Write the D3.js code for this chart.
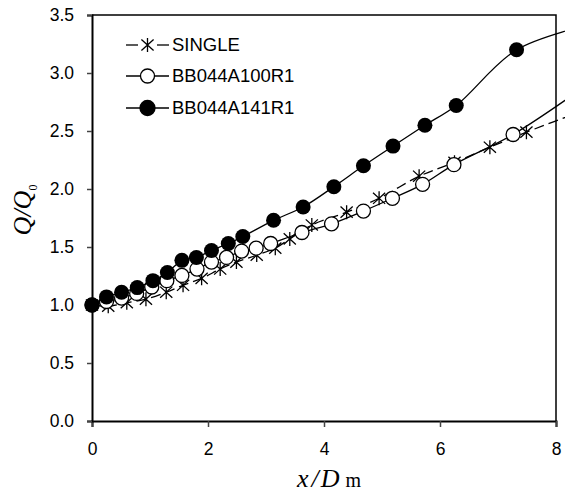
<!DOCTYPE html>
<html lang="en">
    <head>
        <meta charset="utf-8">
        <title>Q/Q0 vs x/Dm</title>
        <script src="https://d3js.org/d3.v7.min.js"></script>
        <style type="text/css">
            body { margin: 0; background: #fff; }
            .tick text { font-family: "Liberation Sans", Arial, sans-serif; font-size: 17.5px; fill: #000; }
        </style>
    </head>
    <body>
        <script type="text/javascript">
            // data (last point of each series lies past x=8, only its line shows)
            var singleX = [0, 0.28, 0.60, 0.93, 1.28, 1.57, 1.89, 2.21, 2.49, 2.84, 3.16, 3.41, 3.79, 4.39, 4.95, 5.64, 6.25, 6.86, 7.49, 8.6];
            var singleY = [1.0, 0.99, 1.02, 1.05, 1.11, 1.17, 1.23, 1.31, 1.37, 1.43, 1.49, 1.57, 1.69, 1.80, 1.92, 2.11, 2.23, 2.36, 2.49, 2.70];

            var openX = [0, 0.25, 0.51, 0.77, 1.03, 1.29, 1.55, 1.81, 2.06, 2.32, 2.58, 2.83, 3.08, 3.62, 4.13, 4.68, 5.18, 5.70, 6.24, 7.26, 8.6];
            var openY = [1.0, 1.03, 1.06, 1.10, 1.155, 1.21, 1.255, 1.31, 1.37, 1.41, 1.465, 1.49, 1.53, 1.625, 1.70, 1.81, 1.92, 2.04, 2.21, 2.47, 2.92];

            var filledX = [0, 0.25, 0.51, 0.78, 1.05, 1.30, 1.55, 1.80, 2.06, 2.35, 2.60, 3.13, 3.64, 4.17, 4.68, 5.19, 5.74, 6.28, 7.32, 8.6];
            var filledY = [1.0, 1.07, 1.11, 1.15, 1.21, 1.28, 1.385, 1.41, 1.47, 1.53, 1.59, 1.73, 1.845, 2.02, 2.20, 2.37, 2.55, 2.72, 3.20, 3.42];

            var seriesNames = ["SINGLE", "BB044A100R1", "BB044A141R1"];
            var xTicks = [0, 2, 4, 6, 8];
            var yTicks = [0, 0.5, 1, 1.5, 2, 2.5, 3, 3.5];

            var width = 578, height = 496;
            var plot = {left: 92, right: 556, top: 15, bottom: 421};

            var xScale = d3.scaleLinear().domain([0, 8]).range([plot.left, plot.right]);
            var yScale = d3.scaleLinear().domain([0, 3.5]).range([plot.bottom, plot.top]);

            var svg = d3.select("body").append("svg")
                .attr("width", width)
                .attr("height", height);

            // lines run past the axis box, up to the chart area edge
            svg.append("clipPath").attr("id", "area")
                .append("rect").attr("x", 0).attr("y", 0).attr("width", 565).attr("height", height);

            // frame (top and right)
            svg.append("path")
                .attr("d", "M" + plot.left + "," + plot.top + "H" + plot.right + "V" + plot.bottom)
                .attr("fill", "none").attr("stroke", "#000").attr("stroke-width", 1.5);

            // axes
            var xAxis = d3.axisBottom(xScale).tickValues(xTicks).tickSize(6).tickPadding(16).tickFormat(d3.format("d"));
            var yAxis = d3.axisLeft(yScale).tickValues(yTicks).tickSize(5).tickPadding(13).tickFormat(d3.format(".1f"));

            var gx = svg.append("g").attr("transform", "translate(0," + plot.bottom + ")").call(xAxis);
            var gy = svg.append("g").attr("transform", "translate(" + plot.left + ",0)").call(yAxis);
            [gx, gy].forEach(function(g) {
                g.select(".domain").attr("stroke", "#000").attr("stroke-width", 2);
                g.selectAll(".tick line").attr("stroke", "#444").attr("stroke-width", 1.5);
            });

            function toPoints(xs, ys) {
                return xs.map(function(x, i) { return {x: x, y: ys[i]}; });
            }

            var line = d3.line()
                .x(function(d) { return xScale(d.x); })
                .y(function(d) { return yScale(d.y); })
                .curve(d3.curveCatmullRom.alpha(0.5));

            function starPath(cx, cy, r) {
                var dx = r * 0.87;
                return "M" + cx + "," + (cy - r) + "V" + (cy + r) +
                    "M" + (cx - dx) + "," + (cy - r * 0.8) + "L" + (cx + dx) + "," + (cy + r * 0.8) +
                    "M" + (cx - dx) + "," + (cy + r * 0.8) + "L" + (cx + dx) + "," + (cy - r * 0.8);
            }

            var plots = svg.append("g").attr("clip-path", "url(#area)");

            // SINGLE: dashed line, star markers
            var single = toPoints(singleX, singleY);
            plots.append("path").datum(single)
                .attr("d", line).attr("fill", "none")
                .attr("stroke", "#000").attr("stroke-width", 1.3).attr("stroke-dasharray", "10,5");
            plots.selectAll(".star").data(single.filter(function(d) { return d.x <= 8; }))
                .enter().append("path").attr("class", "star")
                .attr("d", function(d) { return starPath(xScale(d.x), yScale(d.y), 7); })
                .attr("stroke", "#000").attr("stroke-width", 1.3).attr("fill", "none");

            // BB044A100R1: solid line, open circles
            var open = toPoints(openX, openY);
            plots.append("path").datum(open)
                .attr("d", line).attr("fill", "none")
                .attr("stroke", "#000").attr("stroke-width", 1.3);
            plots.selectAll(".open").data(open.filter(function(d) { return d.x <= 8; }))
                .enter().append("circle").attr("class", "open")
                .attr("cx", function(d) { return xScale(d.x); })
                .attr("cy", function(d) { return yScale(d.y); })
                .attr("r", 7).attr("fill", "#fff").attr("stroke", "#000").attr("stroke-width", 1.3);

            // BB044A141R1: solid line, filled circles
            var filled = toPoints(filledX, filledY);
            plots.append("path").datum(filled)
                .attr("d", line).attr("fill", "none")
                .attr("stroke", "#000").attr("stroke-width", 1.3);
            plots.selectAll(".filled").data(filled.filter(function(d) { return d.x <= 8; }))
                .enter().append("circle").attr("class", "filled")
                .attr("cx", function(d) { return xScale(d.x); })
                .attr("cy", function(d) { return yScale(d.y); })
                .attr("r", 7.5).attr("fill", "#000");

            // legend
            var legend = svg.append("g").attr("font-family", "Liberation Sans, Arial, sans-serif").attr("font-size", "18.5px");
            var rowY = [45, 76, 108];
            seriesNames.forEach(function(name, i) {
                var y = rowY[i];
                if (i == 0) {
                    legend.append("line").attr("x1", 126).attr("x2", 138).attr("y1", y).attr("y2", y).attr("stroke", "#000").attr("stroke-width", 1.3);
                    legend.append("line").attr("x1", 157).attr("x2", 169).attr("y1", y).attr("y2", y).attr("stroke", "#000").attr("stroke-width", 1.3);
                    legend.append("path").attr("d", starPath(147.5, y, 7)).attr("stroke", "#000").attr("stroke-width", 1.3).attr("fill", "none");
                } else {
                    legend.append("line").attr("x1", 126).attr("x2", 169).attr("y1", y).attr("y2", y).attr("stroke", "#000").attr("stroke-width", 1.3);
                    legend.append("circle").attr("cx", 147.5).attr("cy", y).attr("r", i == 1 ? 7 : 7.5)
                        .attr("fill", i == 1 ? "#fff" : "#000").attr("stroke", "#000").attr("stroke-width", 1.3);
                }
                legend.append("text").attr("x", 172).attr("y", y).attr("dy", "0.35em").text(name);
            });

            // axis titles
            var xt = svg.append("text").attr("x", 329).attr("y", 487)
                .attr("text-anchor", "middle")
                .attr("font-family", "Liberation Serif, Times New Roman, serif").attr("font-size", "26px");
            xt.append("tspan").attr("font-style", "italic").text("x");
            xt.append("tspan").attr("font-style", "italic").attr("dx", 3).text("/");
            xt.append("tspan").attr("font-style", "italic").attr("dx", 2).text("D");
            xt.append("tspan").attr("font-size", "20px").attr("dx", 6).text("m");

            var yt = svg.append("text")
                .attr("transform", "translate(31,210) rotate(-90)")
                .attr("text-anchor", "middle")
                .attr("font-family", "Liberation Serif, Times New Roman, serif").attr("font-size", "26px");
            yt.append("tspan").attr("font-style", "italic").text("Q/Q");
            yt.append("tspan").attr("font-size", "12px").attr("dy", 6).text("0");
        </script>
    </body>
</html>
